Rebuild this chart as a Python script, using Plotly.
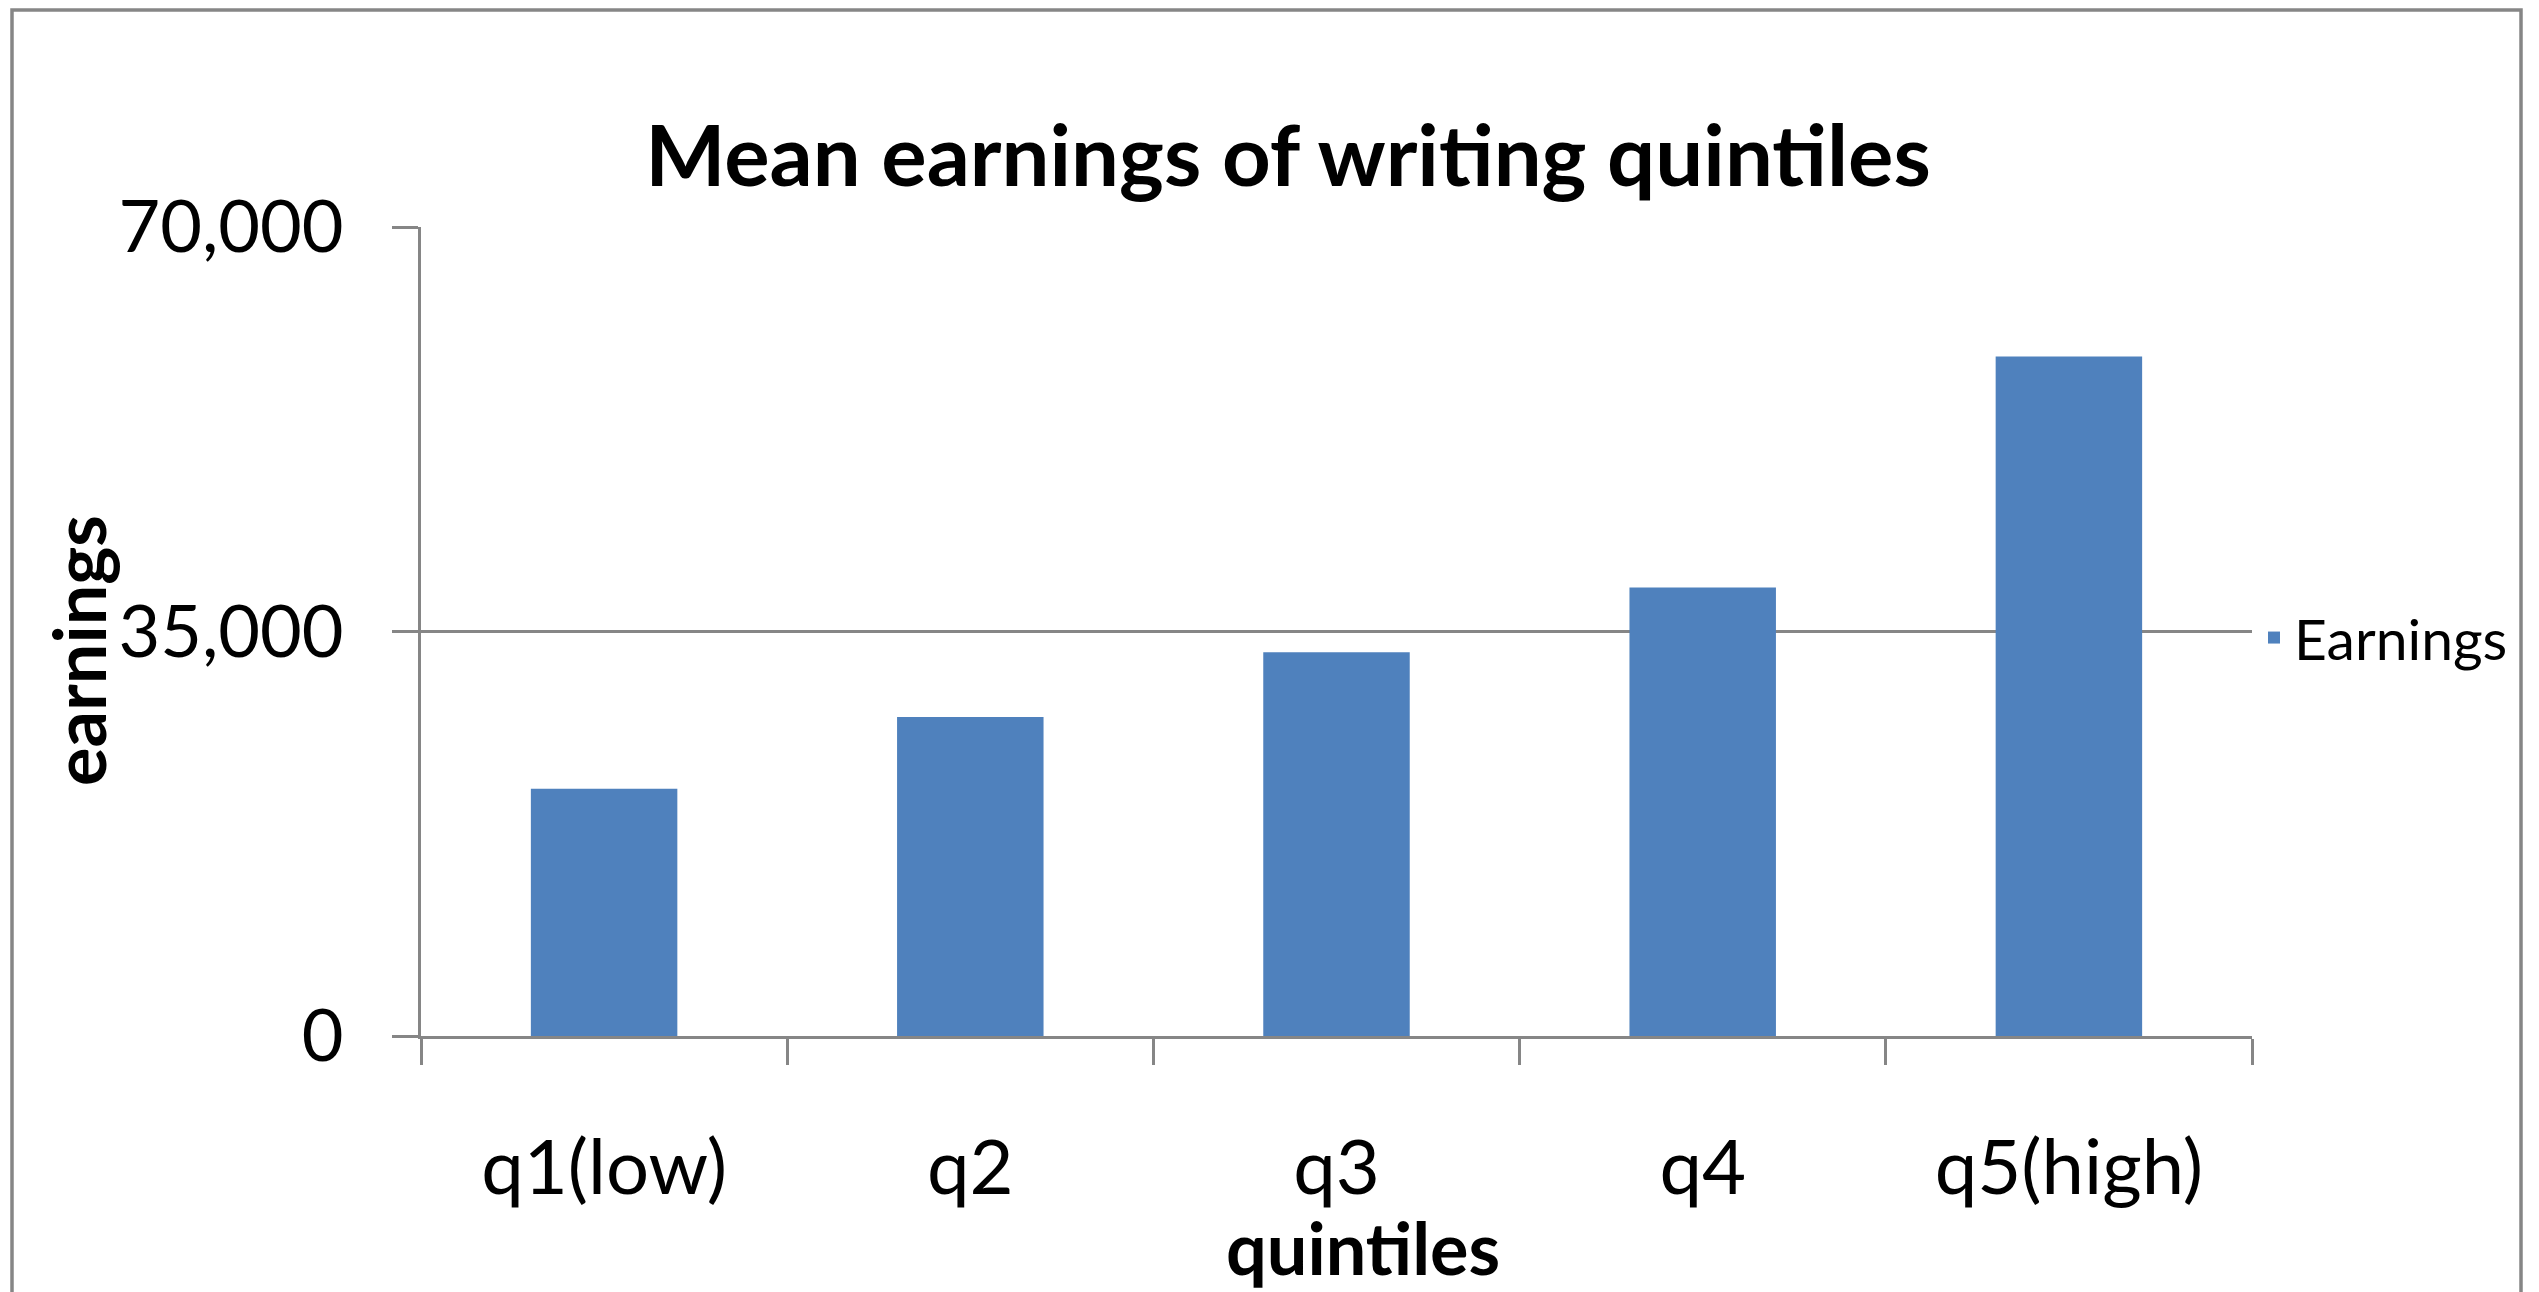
import plotly.graph_objects as go

quintiles = ["q1(low)", "q2", "q3", "q4", "q5(high)"]
earnings = [21400, 27600, 33200, 38800, 58800]
y_ticks = [0, 35000, 70000]

# page has an 8px body margin, so figure coords = screen coords - 8
W, H = 2539, 1292
L, T = 413, 219
pw, ph = 1831, 809
R, B = W - L - pw, H - T - ph

def px_x(x):
    return (x - L) / pw

def px_y(y):
    return (T + ph - y) / ph

grey = "#868686"
font = "Lato, 'Open Sans', sans-serif"

fig = go.Figure(go.Bar(x=quintiles, y=earnings, name="Earnings",
                       marker=dict(color="#4F81BD", line=dict(width=0))))

fig.update_layout(
    width=W, height=H,
    margin=dict(l=L, r=R, t=T, b=B),
    paper_bgcolor="white", plot_bgcolor="white",
    font=dict(family=font, color="black"),
    bargap=0.6,
    title=dict(text="<b>Mean earnings of writing quintiles</b>",
               font=dict(size=85, color="black"),
               x=px_x(1280), xref="paper", xanchor="center",
               y=1 - 148 / H, yanchor="middle"),
    showlegend=True,
    legend=dict(x=px_x(2246), xanchor="left", y=px_y(630), yanchor="middle",
                font=dict(size=57), bgcolor="rgba(0,0,0,0)"),
    shapes=[dict(type="rect", xref="paper", yref="paper",
                 x0=px_x(4), x1=px_x(2513), y0=px_y(1400), y1=px_y(2),
                 line=dict(color=grey, width=3.5))],
    annotations=[
        dict(text="<b>quintiles</b>", xref="paper", yref="paper",
             x=px_x(1355), y=px_y(1239), xanchor="center", yanchor="middle",
             showarrow=False, font=dict(size=72)),
        dict(text="<b>earnings</b>", xref="paper", yref="paper",
             x=px_x(70), y=px_y(643), xanchor="center", yanchor="middle",
             textangle=-90, showarrow=False, font=dict(size=72)),
    ],
)

fig.update_xaxes(
    showline=True, linecolor=grey, linewidth=3,
    ticks="outside", tickson="boundaries", ticklen=26, tickwidth=3, tickcolor=grey,
    tickfont=dict(size=76), ticklabelstandoff=64,
    showgrid=False,
)

fig.update_yaxes(
    range=[0, 70000], tickvals=y_ticks, tickformat=",",
    showline=True, linecolor=grey, linewidth=3,
    ticks="outside", ticklen=26, tickwidth=3, tickcolor=grey,
    tickfont=dict(size=72), ticklabelstandoff=34,
    showgrid=True, gridcolor=grey, gridwidth=3,
    zeroline=False,
)

fig.write_html("out.html")
